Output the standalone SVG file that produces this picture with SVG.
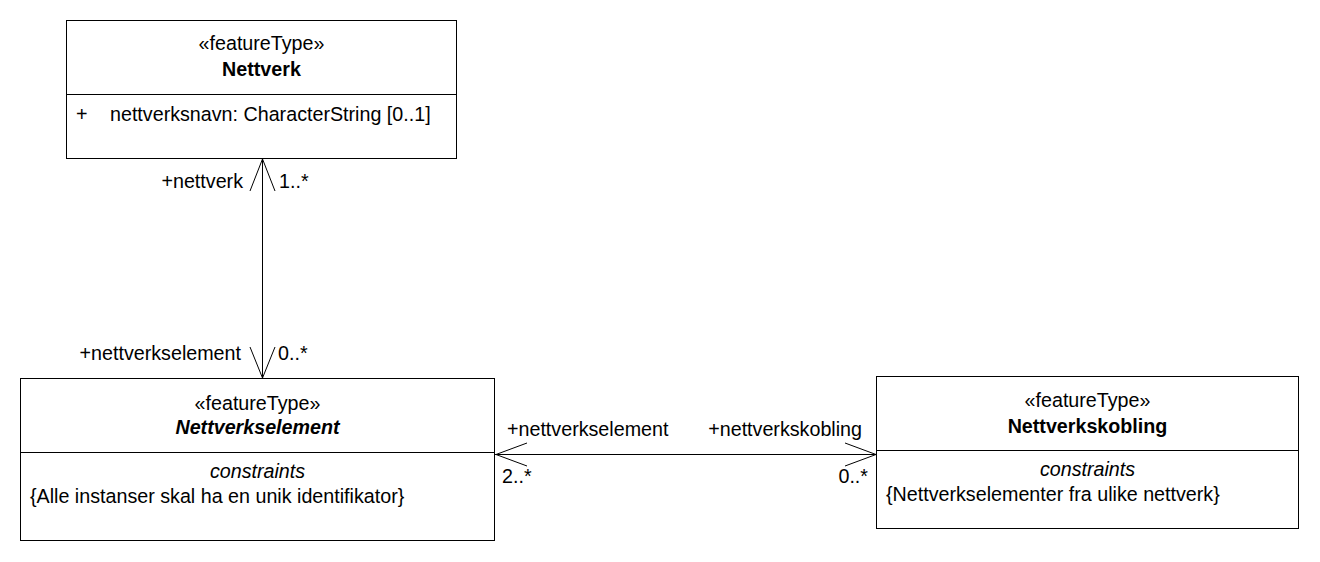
<svg xmlns="http://www.w3.org/2000/svg" width="1320" height="562" viewBox="0 0 1320 562">
<style>
.box{fill:#fff;stroke:#000;stroke-width:1}
.ln{stroke:#000;stroke-width:1;fill:none}
text{font-family:"Liberation Sans",Arial,sans-serif;font-size:19.7px;fill:#000}
.c{text-anchor:middle}
.b{font-weight:bold}
.i{font-style:italic}
.e{text-anchor:end}
</style>
<rect width="1320" height="562" fill="#fff"/>
<g id="Nettverk">
<rect class="box" x="66.5" y="20.5" width="390" height="138"/>
<line class="ln" x1="66.5" y1="94.5" x2="456.5" y2="94.5"/>
<text class="c" x="261.5" y="50">«featureType»</text>
<text class="c b" x="261.5" y="76">Nettverk</text>
<text x="76" y="121">+</text>
<text x="110" y="121">nettverksnavn: CharacterString [0..1]</text>
</g>
<g id="Nettverkselement">
<rect class="box" x="20.5" y="378.5" width="474" height="162"/>
<line class="ln" x1="20.5" y1="452.5" x2="494.5" y2="452.5"/>
<text class="c" x="257.5" y="410">«featureType»</text>
<text class="c b i" x="257.5" y="434">Nettverkselement</text>
<text class="c i" x="257.5" y="478">constraints</text>
<text x="30" y="503">{Alle instanser skal ha en unik identifikator}</text>
</g>
<g id="Nettverkskobling">
<rect class="box" x="876.5" y="376.5" width="422" height="152"/>
<line class="ln" x1="876.5" y1="450.5" x2="1298.5" y2="450.5"/>
<text class="c" x="1087.5" y="407">«featureType»</text>
<text class="c b" x="1087.5" y="433">Nettverkskobling</text>
<text class="c i" x="1087.5" y="476">constraints</text>
<text x="886" y="501">{Nettverkselementer fra ulike nettverk}</text>
</g>
<g id="connectors">
<line class="ln" x1="262.5" y1="159" x2="262.5" y2="378"/>
<polyline class="ln" points="250,191 262.5,159 275,191"/>
<polyline class="ln" points="250,347 262.5,378 275,347"/>
<text class="e" x="243" y="188">+nettverk</text>
<text x="279" y="188">1..*</text>
<text class="e" x="241" y="360">+nettverkselement</text>
<text x="278" y="360">0..*</text>
<line class="ln" x1="495" y1="454.5" x2="876" y2="454.5"/>
<polyline class="ln" points="527,443 496,454.5 527,466"/>
<polyline class="ln" points="845,443 876,454.5 845,466"/>
<text x="507" y="436">+nettverkselement</text>
<text class="e" x="862" y="436">+nettverkskobling</text>
<text x="502" y="483">2..*</text>
<text class="e" x="868" y="483">0..*</text>
</g>
</svg>
